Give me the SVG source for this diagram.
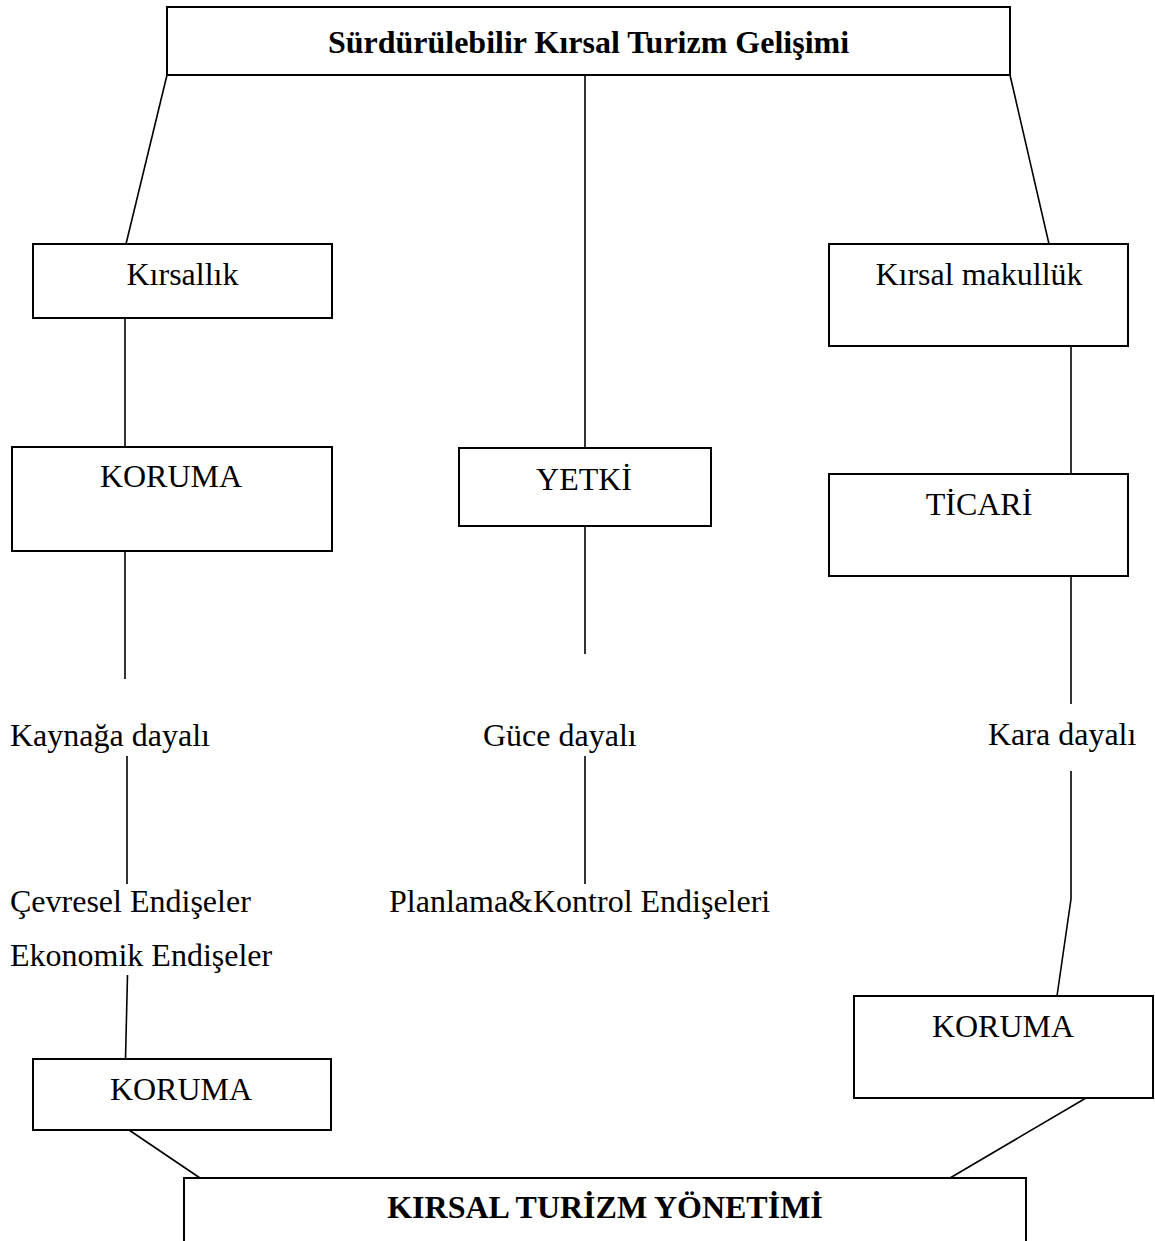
<svg xmlns="http://www.w3.org/2000/svg" width="1155" height="1241" viewBox="0 0 1155 1241">
<style>
  .box { fill: #ffffff; stroke: #000000; stroke-width: 2; }
  .ln { stroke: #000000; stroke-width: 1.6; fill: none; }
  .t { font-family: "Liberation Serif", "Times New Roman", serif; font-size: 32px; fill: #000000; }
  .c { text-anchor: middle; }
  .b { font-weight: bold; }
</style>
<rect width="1155" height="1241" fill="#ffffff"/>
<g id="connectors">
  <line class="ln" x1="167" y1="75" x2="126" y2="244"/>
  <line class="ln" x1="585" y1="75" x2="585" y2="448"/>
  <line class="ln" x1="1010" y1="75" x2="1049" y2="244"/>
  <line class="ln" x1="125" y1="318" x2="125" y2="447"/>
  <line class="ln" x1="125" y1="551" x2="125" y2="679"/>
  <line class="ln" x1="127" y1="756" x2="127" y2="884"/>
  <line class="ln" x1="127.5" y1="975" x2="125.5" y2="1059"/>
  <line class="ln" x1="585" y1="526" x2="585" y2="654"/>
  <line class="ln" x1="585" y1="756" x2="585" y2="884"/>
  <line class="ln" x1="1071" y1="346" x2="1071" y2="474"/>
  <line class="ln" x1="1071" y1="576" x2="1071" y2="704"/>
  <polyline class="ln" points="1071,771 1071,899 1057,996"/>
  <line class="ln" x1="129" y1="1130" x2="200" y2="1178"/>
  <line class="ln" x1="1086" y1="1098" x2="950" y2="1178"/>
</g>
<g id="node-top">
  <rect class="box" x="167" y="7" width="843" height="68"/>
  <text class="t c b" x="588.5" y="53">Sürdürülebilir Kırsal Turizm Gelişimi</text>
</g>
<g id="node-kirsallik">
  <rect class="box" x="33" y="244" width="299" height="74"/>
  <text class="t c" x="182.5" y="285">Kırsallık</text>
</g>
<g id="node-koruma1">
  <rect class="box" x="12" y="447" width="320" height="104"/>
  <text class="t c" x="171" y="487">KORUMA</text>
</g>
<g id="node-yetki">
  <rect class="box" x="459" y="448" width="252" height="78"/>
  <text class="t c" x="584" y="490">YETKİ</text>
</g>
<g id="node-kirsal-makulluk">
  <rect class="box" x="829" y="244" width="299" height="102"/>
  <text class="t c" x="979" y="285">Kırsal makullük</text>
</g>
<g id="node-ticari">
  <rect class="box" x="829" y="474" width="299" height="102"/>
  <text class="t c" x="979" y="515">TİCARİ</text>
</g>
<g id="label-kaynaga">
  <text class="t" x="10" y="746">Kaynağa dayalı</text>
</g>
<g id="label-guce">
  <text class="t" x="483" y="746">Güce dayalı</text>
</g>
<g id="label-kara">
  <text class="t" x="988" y="745">Kara dayalı</text>
</g>
<g id="label-cevresel">
  <text class="t" x="10" y="912">Çevresel Endişeler</text>
</g>
<g id="label-ekonomik">
  <text class="t" x="10" y="966">Ekonomik Endişeler</text>
</g>
<g id="label-planlama">
  <text class="t" x="389" y="912">Planlama&amp;Kontrol Endişeleri</text>
</g>
<g id="node-koruma2">
  <rect class="box" x="33" y="1059" width="298" height="71"/>
  <text class="t c" x="181" y="1100">KORUMA</text>
</g>
<g id="node-koruma3">
  <rect class="box" x="854" y="996" width="299" height="102"/>
  <text class="t c" x="1003" y="1037">KORUMA</text>
</g>
<g id="node-yonetim">
  <rect class="box" x="184" y="1178" width="842" height="80"/>
  <text class="t c b" x="605" y="1218">KIRSAL TURİZM YÖNETİMİ</text>
</g>
</svg>
